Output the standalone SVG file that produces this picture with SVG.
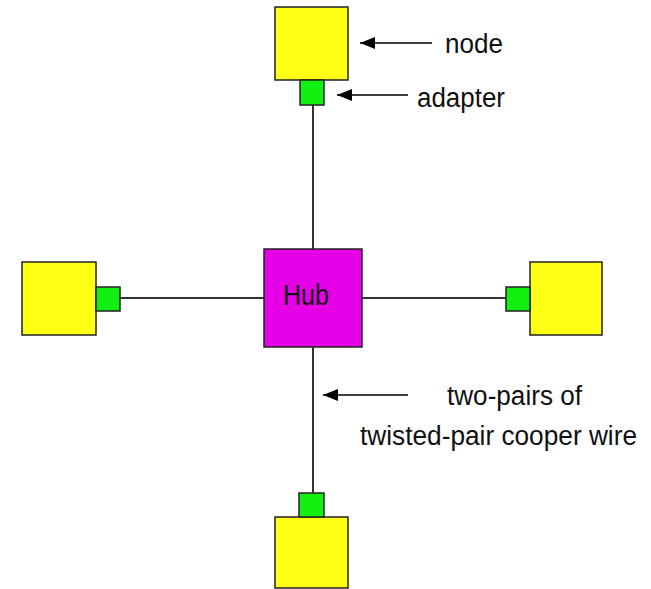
<svg xmlns="http://www.w3.org/2000/svg" width="651" height="589" viewBox="0 0 651 589">
<style>
.node{fill:#ffff14;stroke:#222;stroke-width:1.5}
.adapter{fill:#12f012;stroke:#222;stroke-width:1.5}
.hub{fill:#e600e6;stroke:#222;stroke-width:1.5}
.wire{stroke:#333;stroke-width:2;fill:none}
.pointer{stroke:#000;stroke-width:1.6;fill:none;marker-end:url(#ah)}
text{font-family:"Liberation Sans",Arial,sans-serif;fill:#111}
.lbl{font-size:27px}
</style>
<defs>
<marker id="ah" viewBox="0 0 15 12" refX="15" refY="6" markerWidth="15" markerHeight="12" markerUnits="userSpaceOnUse" orient="auto">
<path d="M0,0 L15,6 L0,12 Z" fill="#000"/>
</marker>
</defs>
<g id="connectors">
<line class="wire" x1="313" y1="105" x2="313" y2="249"/>
<line class="wire" x1="313" y1="347" x2="313" y2="493"/>
<line class="wire" x1="120" y1="298" x2="264" y2="298"/>
<line class="wire" x1="362" y1="298" x2="506" y2="298"/>
<line class="pointer" x1="432" y1="43" x2="360" y2="43"/>
<line class="pointer" x1="408" y1="95" x2="337" y2="95"/>
<line class="pointer" x1="408" y1="395" x2="323" y2="395"/>
</g>
<g id="hub">
<rect class="hub" x="264" y="249" width="98" height="98"/>
<text x="283" y="305" font-size="30" textLength="46" lengthAdjust="spacingAndGlyphs">Hub</text>
</g>
<g id="node-top">
<rect class="node" x="275" y="7" width="73" height="73"/>
<rect class="adapter" x="300" y="80" width="24" height="25"/>
</g>
<g id="node-left">
<rect class="node" x="22" y="262" width="74" height="73"/>
<rect class="adapter" x="96" y="287" width="24" height="24"/>
</g>
<g id="node-right">
<rect class="node" x="530" y="262" width="72" height="73"/>
<rect class="adapter" x="506" y="287" width="24" height="24"/>
</g>
<g id="node-bottom">
<rect class="node" x="275" y="517" width="73" height="71"/>
<rect class="adapter" x="299" y="493" width="25" height="24"/>
</g>
<g id="labels">
<text class="lbl" x="445" y="53" textLength="58" lengthAdjust="spacingAndGlyphs">node</text>
<text class="lbl" x="417" y="107" textLength="88" lengthAdjust="spacingAndGlyphs">adapter</text>
<text class="lbl" x="447" y="405" textLength="135" lengthAdjust="spacingAndGlyphs">two-pairs of</text>
<text class="lbl" x="360" y="445" textLength="277" lengthAdjust="spacingAndGlyphs">twisted-pair cooper wire</text>
</g>
</svg>
